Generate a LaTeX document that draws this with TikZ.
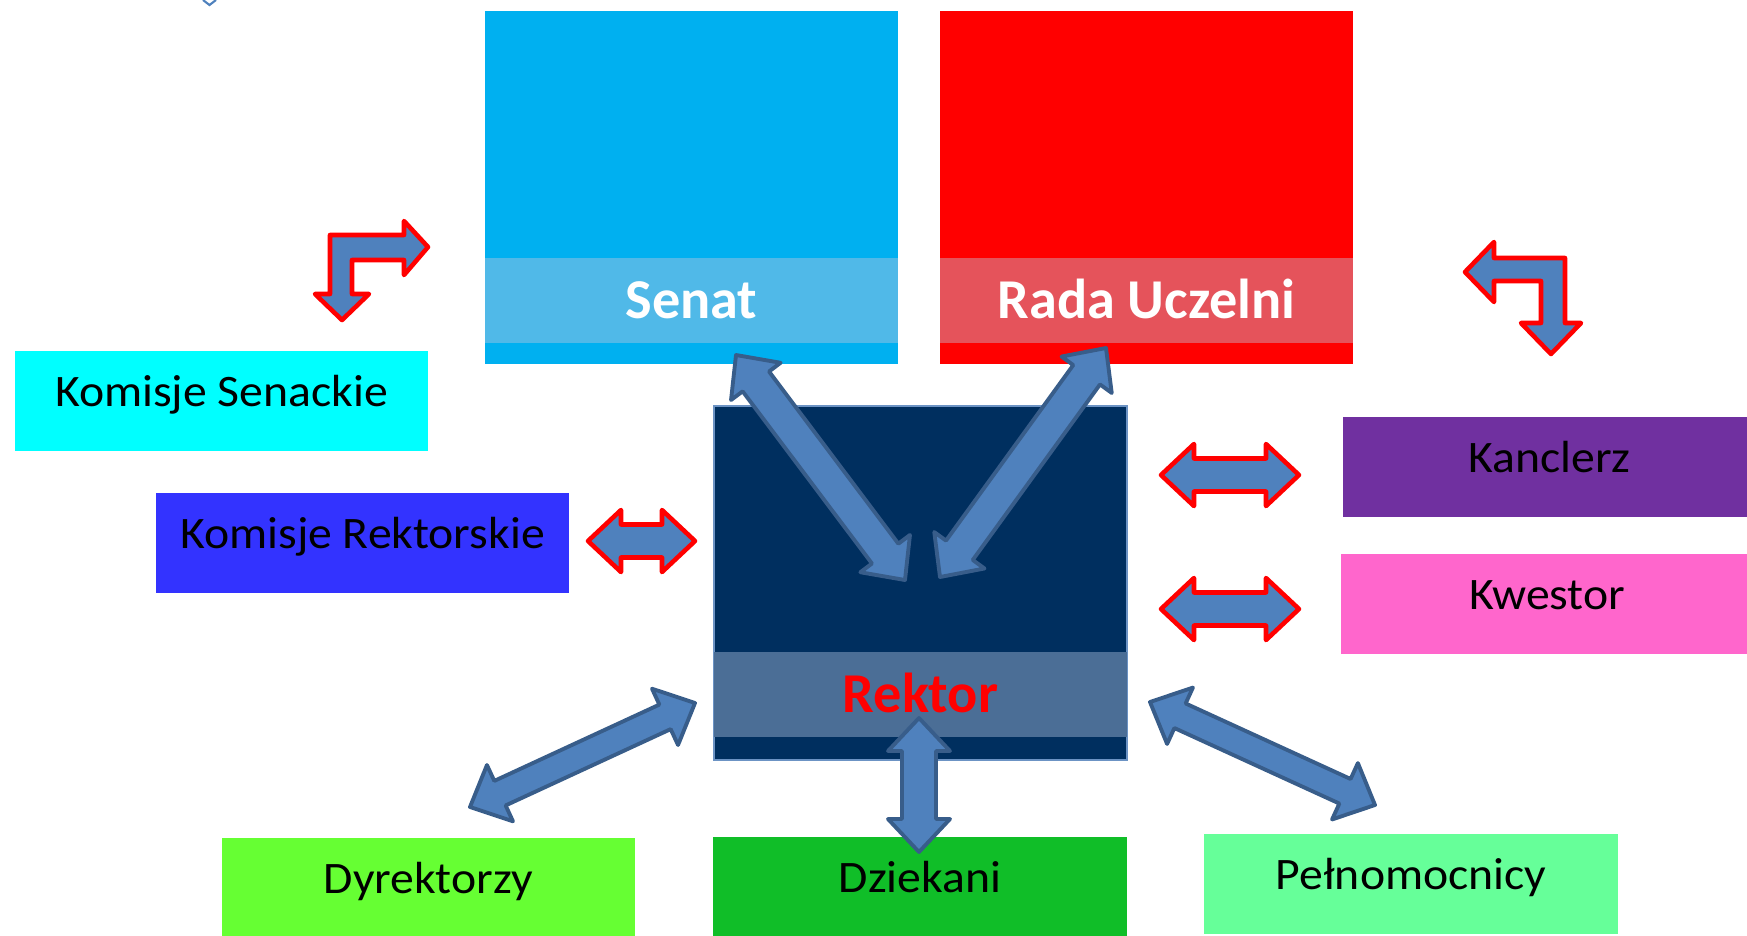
\documentclass[tikz,border=0pt]{standalone}
\usepackage{fontspec}
\setmainfont{Carlito}
\newfontfamily\unitfont{Carlito}[FakeStretch=1.06]
\usetikzlibrary{calc,positioning}

\definecolor{senatblue}{HTML}{00B0F0}
\definecolor{senatband}{HTML}{50B9E8}
\definecolor{radared}{HTML}{FF0000}
\definecolor{radaband}{HTML}{E5535B}
\definecolor{rektornavy}{HTML}{002F5F}
\definecolor{rektorband}{HTML}{4B6E96}
\definecolor{rektoredge}{HTML}{6C93C4}
\definecolor{linkblue}{HTML}{4F81BD}
\definecolor{linkedge}{HTML}{385D8A}
\definecolor{kscyan}{HTML}{00FFFF}
\definecolor{krblue}{HTML}{3333FF}
\definecolor{kanclerzviolet}{HTML}{7030A0}
\definecolor{kwestorpink}{HTML}{FF66CC}
\definecolor{dyrgreen}{HTML}{66FF33}
\definecolor{dziekgreen}{HTML}{10BE28}
\definecolor{pelngreen}{HTML}{66FF99}

% block arrow with two heads: [style]{shaft half width}{from}{to}
\newcommand\arrhead{0.33cm}
\newcommand\arrwing{0.31cm}
\newcommand\fatarrow[4][]{%
  \draw[#1] (#3)
    -- ($(#3)!\arrhead!(#4)!\arrwing!90:(#4)$)
    -- ($(#3)!\arrhead!(#4)!#2!90:(#4)$)
    -- ($(#4)!\arrhead!(#3)!#2!-90:(#3)$)
    -- ($(#4)!\arrhead!(#3)!\arrwing!-90:(#3)$)
    -- (#4)
    -- ($(#4)!\arrhead!(#3)!\arrwing!90:(#3)$)
    -- ($(#4)!\arrhead!(#3)!#2!90:(#3)$)
    -- ($(#3)!\arrhead!(#4)!#2!-90:(#4)$)
    -- ($(#3)!\arrhead!(#4)!\arrwing!-90:(#4)$)
    -- cycle;}

\begin{document}
\begin{tikzpicture}[x=0.01cm,y=-0.01cm,
  organ/.style={rectangle,inner sep=0pt,outer sep=0pt,minimum width=4.13cm,minimum height=3.53cm},
  band/.style={rectangle,inner sep=0pt,outer sep=0pt,minimum width=4.13cm,minimum height=0.85cm,
    font=\bfseries\fontsize{16}{19}\selectfont,text height=0.36cm,text depth=0cm},
  unit/.style={rectangle,inner sep=0pt,outer sep=0pt,minimum width=4.13cm,minimum height=1cm,
    font=\unitfont\fontsize{12.8}{15}\selectfont,text height=0.35cm,text depth=0.25cm},
  link/.style={fill=linkblue,draw=linkedge,line width=1.1pt,line join=round},
  redlink/.style={fill=linkblue,draw=red,line width=1.3pt,line join=round}
]
  \useasboundingbox (0,0) rectangle (1747,935);
  \clip (0,0) rectangle (1747,935);

  % organy uczelni
  \node[organ,fill=senatblue] (senatbox) at (691.5,187.5) {};
  \node[band,fill=senatband,text=white,above=0.21cm of senatbox.south] (senat) {Senat};
  \node[organ,fill=radared] (radabox) at (1146.5,187.5) {};
  \node[band,fill=radaband,text=white,above=0.21cm of radabox.south] (rada) {Rada Uczelni};
  \node[organ,fill=rektornavy,draw=rektoredge,line width=0.6pt,minimum height=3.54cm] (rektorbox) at (920.5,583) {};
  \node[band,fill=rektorband,text=red,above=0.23cm of rektorbox.south] (rektor) {Rektor};

  % jednostki
  \node[unit,fill=kscyan] (komsen) at (221.5,401) {Komisje Senackie};
  \node[unit,fill=krblue] (komrek) at (362.5,543) {Komisje Rektorskie};
  \node[unit,fill=kanclerzviolet] (kanclerz) at (1549.5,467) {Kanclerz};
  \node[unit,fill=kwestorpink] (kwestor) at (1547.5,604) {Kwestor};
  \node[unit,fill=dyrgreen] (dyrektorzy) at (428.5,888) {Dyrektorzy};
  \node[unit,fill=dziekgreen] (dziekani) at (920,887) {Dziekani};
  \node[unit,fill=pelngreen] (pelnomocnicy) at (1411,884) {Pełnomocnicy};

  % konce strzalek
  \coordinate (sen-a) at (736,355);   \coordinate (sen-b) at (905,580);
  \coordinate (rad-a) at (1106,348);  \coordinate (rad-b) at (940,577);
  \coordinate (dyr-a) at (695,703);   \coordinate (dyr-b) at (470,807);
  \coordinate (dzi-a) at (919,718);   \coordinate (dzi-b) at (919,852);
  \coordinate (pel-a) at (1150,702);  \coordinate (pel-b) at (1375,805);
  \coordinate (kr-a) at (588,541);    \coordinate (kr-b) at (695,541);
  \coordinate (kan-a) at (1161,475);  \coordinate (kan-b) at (1299,475);
  \coordinate (kwe-a) at (1161,609);  \coordinate (kwe-b) at (1299,609);

  \fatarrow[link]{0.165cm}{sen-a}{sen-b}
  \fatarrow[link]{0.165cm}{rad-a}{rad-b}
  \fatarrow[link]{0.135cm}{dyr-a}{dyr-b}
  \fatarrow[link]{0.17cm}{dzi-a}{dzi-b}
  \fatarrow[link]{0.135cm}{pel-a}{pel-b}
  \fatarrow[redlink]{0.165cm}{kr-a}{kr-b}
  \fatarrow[redlink]{0.165cm}{kan-a}{kan-b}
  \fatarrow[redlink]{0.165cm}{kwe-a}{kwe-b}

  % strzalki zagiete
  \draw[redlink] (330,235) -- (404,235) -- (404,221) -- (428,247) -- (404,275) -- (404,260)
    -- (352,260) -- (352,294) -- (369,294) -- (342,320) -- (315,294) -- (330,294) -- cycle;
  \draw[redlink] (1465,272) -- (1494,242) -- (1494,258) -- (1565,258) -- (1565,323)
    -- (1581,323) -- (1551,354) -- (1521,323) -- (1541,323) -- (1541,281) -- (1494,281)
    -- (1494,302) -- cycle;

  \draw[linkblue,line width=0.6pt] (203,0) -- (209.5,5) -- (216,0);
\end{tikzpicture}
\end{document}
